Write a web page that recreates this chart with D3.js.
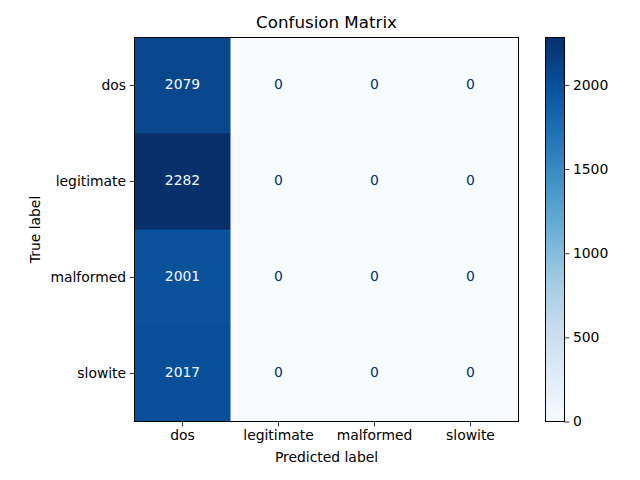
<!DOCTYPE html>
<html><head><meta charset="utf-8">
<script src="https://cdn.jsdelivr.net/npm/d3@7"></script>
<style>body{margin:0;background:#fff}svg text{font-family:"DejaVu Sans",sans-serif}</style>
</head><body><svg id="c" width="640" height="480"></svg>
<script>
const labels = ["dos","legitimate","malformed","slowite"];
const matrix = [
  [2079,0,0,0],
  [2282,0,0,0],
  [2001,0,0,0],
  [2017,0,0,0]
];
const cbTicks = [0,500,1000,1500,2000];
const blues = ["#f7fbff","#deebf7","#c6dbef","#9ecae1","#6baed6","#4292c6","#2171b5","#08519c","#08306b"];

const svg = d3.select("#c");
const L=134.5, T=37.5, S=384;
const x = d3.scaleBand().domain(labels).range([L,L+S]);
const y = d3.scaleBand().domain(labels).range([T,T+S]);
const vals = matrix.flat();
const vmin = d3.min(vals), vmax = d3.max(vals);
const interp = d3.piecewise(d3.interpolateRgb, blues);
const color = d3.scaleSequential(interp).domain([vmin,vmax]);
const thresh = (vmin+vmax)/2;

const cells = [];
matrix.forEach((row,i)=>row.forEach((v,j)=>cells.push({r:labels[i],c:labels[j],v})));
svg.append("g").selectAll("rect").data(cells).join("rect")
  .attr("x",d=>x(d.c)).attr("y",d=>y(d.r))
  .attr("width",x.bandwidth()+0.5).attr("height",y.bandwidth()+0.5)
  .attr("fill",d=>color(d.v));
svg.append("g").selectAll("text").data(cells).join("text")
  .attr("x",d=>x(d.c)+x.bandwidth()/2).attr("y",d=>y(d.r)+y.bandwidth()/2-1.5)
  .attr("text-anchor","middle").attr("dominant-baseline","central")
  .attr("font-size","13.9px")
  .attr("fill",d=>d.v>=thresh?blues[0]:blues[8])
  .text(d=>d.v);
svg.append("rect").attr("x",L).attr("y",T).attr("width",S).attr("height",S)
  .attr("fill","none").attr("stroke","#000").attr("stroke-width",1);

const xAxis = svg.append("g").attr("transform",`translate(0,${T+S})`)
  .call(d3.axisBottom(x).tickSize(4.9).tickPadding(3.5));
const yAxis = svg.append("g").attr("transform",`translate(${L},0)`)
  .call(d3.axisLeft(y).tickSize(4.9).tickPadding(3.5));
[xAxis,yAxis].forEach(a=>{
  a.select(".domain").remove();
  a.selectAll("text").attr("font-size","13.9px").attr("fill","#000").attr("font-family","DejaVu Sans");
  a.selectAll("line").attr("stroke","#000").attr("stroke-width",0.8);
});

svg.append("text").attr("x",L+S/2).attr("y",28).attr("text-anchor","middle")
  .attr("font-size","16.7px").text("Confusion Matrix");
svg.append("text").attr("x",L+S/2).attr("y",462).attr("text-anchor","middle")
  .attr("font-size","13.9px").text("Predicted label");
svg.append("text").attr("transform",`translate(40,${T+S/2}) rotate(-90)`).attr("text-anchor","middle")
  .attr("font-size","13.9px").text("True label");

// colorbar
const CX=545.5, CW=19;
const cy = d3.scaleLinear().domain([vmin,vmax]).range([T+S,T]);
const defs = svg.append("defs");
const grad = defs.append("linearGradient").attr("id","g").attr("x1",0).attr("y1",1).attr("x2",0).attr("y2",0);
d3.range(0,1.0001,0.05).forEach(t=>grad.append("stop").attr("offset",t).attr("stop-color",interp(t)));
svg.append("rect").attr("x",CX).attr("y",T).attr("width",CW).attr("height",S).attr("fill","url(#g)")
  .attr("stroke","#000").attr("stroke-width",1);
const cAxis = svg.append("g").attr("transform",`translate(${CX+CW},0)`)
  .call(d3.axisRight(cy).tickValues(cbTicks).tickFormat(d3.format("d")).tickSize(4.9).tickPadding(3.5));
cAxis.select(".domain").remove();
cAxis.selectAll("text").attr("font-size","13.9px").attr("fill","#000").attr("font-family","DejaVu Sans");
cAxis.selectAll("line").attr("stroke","#000").attr("stroke-width",0.8);
</script></body></html>
